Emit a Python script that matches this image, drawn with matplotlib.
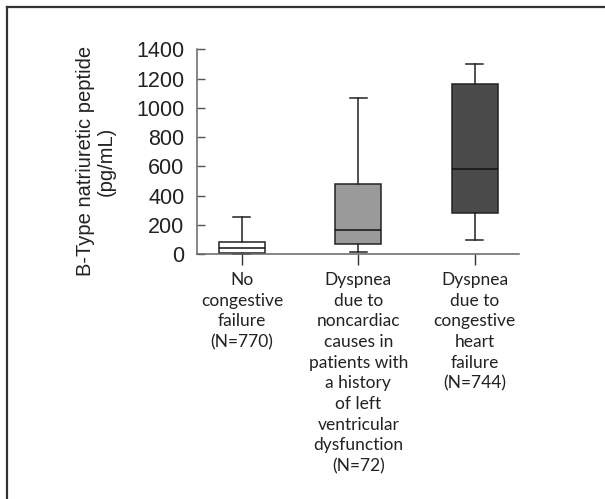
import matplotlib
matplotlib.use("Agg")
import matplotlib.pyplot as plt
from matplotlib.lines import Line2D

# ── data ────────────────────────────────────────────────────────────────────
categories = [
    "No\ncongestive\nfailure\n(N=770)",
    "Dyspnea\ndue to\nnoncardiac\ncauses in\npatients with\na history\nof left\nventricular\ndysfunction\n(N=72)",
    "Dyspnea\ndue to\ncongestive\nheart\nfailure\n(N=744)",
]
whisker_low = [0, 16, 98]
q1 = [7, 66, 278]
median = [39, 162, 579]
q3 = [80, 476, 1161]
whisker_high = [255, 1069, 1300]
box_colors = ["#ffffff", "#9a9a9a", "#4b4b4b"]
yticks = [0, 200, 400, 600, 800, 1000, 1200, 1400]

# ── figure ──────────────────────────────────────────────────────────────────
fig = plt.figure(figsize=(6.05, 4.99), dpi=100)
ax = fig.add_axes([0.3256, 0.491, 0.532, 0.410])

stats = []
for i in range(len(categories)):
    stats.append(
        {
            "whislo": whisker_low[i],
            "q1": q1[i],
            "med": median[i],
            "q3": q3[i],
            "whishi": whisker_high[i],
            "fliers": [],
        }
    )

positions = [1, 2, 3]
bp = ax.bxp(
    stats,
    positions=positions,
    widths=0.395,
    capwidths=0.146,
    patch_artist=True,
    showfliers=False,
    boxprops=dict(edgecolor="#222222", linewidth=1.1),
    medianprops=dict(color="#111111", linewidth=1.1),
    whiskerprops=dict(color="#222222", linewidth=1.1),
    capprops=dict(color="#222222", linewidth=1.1),
)
for patch, c in zip(bp["boxes"], box_colors):
    patch.set_facecolor(c)
for art in bp["boxes"] + bp["medians"] + bp["whiskers"] + bp["caps"]:
    art.set_clip_on(False)

ax.set_xlim(0.614, 3.378)
ax.set_ylim(0, 1400)
ax.set_yticks(yticks)
ax.set_yticklabels([str(v) for v in yticks], family="Liberation Sans",
                   fontsize=15.5, color="#222222")
ax.set_xticks(positions)
ax.set_xticklabels(categories, family="Lato", fontsize=12.5, linespacing=1.36,
                   color="#222222")

ax.tick_params(axis="y", direction="in", length=6, width=1, pad=9, color="#555555")
ax.tick_params(axis="x", direction="out", length=8, width=1, pad=5, color="#333333")

for s in ["top", "right"]:
    ax.spines[s].set_visible(False)
for s in ["left", "bottom"]:
    ax.spines[s].set_color("#666666")
    ax.spines[s].set_linewidth(1.1)

ax.set_ylabel(
    "B-Type natriuretic peptide\n(pg/mL)",
    family="Liberation Sans",
    fontsize=14.5,
    linespacing=1.15,
    color="#222222",
)
ax.yaxis.set_label_coords(-0.252, 0.454)

# frame lines (top and left edges of the panel)
fig.add_artist(Line2D([7 / 605, 1], [1 - 7 / 499, 1 - 7 / 499],
                      transform=fig.transFigure, color="#333333", linewidth=1.6))
fig.add_artist(Line2D([7 / 605, 7 / 605], [0, 1 - 7 / 499],
                      transform=fig.transFigure, color="#333333", linewidth=1.6))

fig.savefig("out.png", dpi=100)
